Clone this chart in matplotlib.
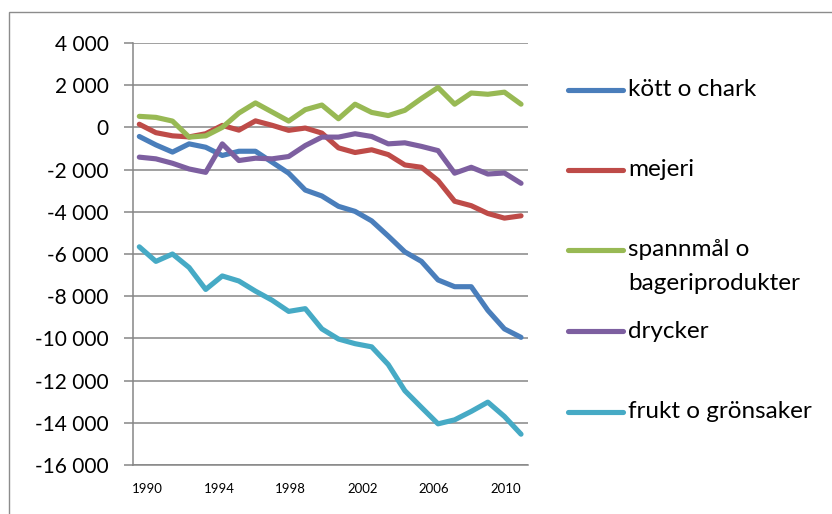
import numpy as np
import matplotlib
matplotlib.use("Agg")
import matplotlib.pyplot as plt
from matplotlib.lines import Line2D
from matplotlib.patches import Rectangle
from matplotlib.ticker import FuncFormatter, MultipleLocator

# ---- data ----
tick_labels = ["1990", "1994", "1998", "2002", "2006", "2010"]

kott_o_chark = [-430, -830, -1170, -780, -940, -1330, -1130, -1130, -1650, -2170,
                -2970, -3250, -3740, -3980, -4430, -5150, -5900, -6350, -7230,
                -7550, -7550, -8670, -9550, -9950]
mejeri = [150, -250, -400, -450, -300, 95, -130, 310, 100, -140,
          -30, -270, -970, -1190, -1060, -1290, -1780, -1890, -2520,
          -3500, -3710, -4080, -4300, -4190]
spannmal = [524, 476, 300, -460, -400, 0, 680, 1160, 730, 300,
            840, 1060, 410, 1100, 710, 560, 810, 1370, 1890,
            1100, 1630, 1570, 1670, 1100]
drycker = [-1410, -1490, -1700, -1970, -2130, -780, -1570, -1460, -1490, -1380,
           -860, -460, -460, -300, -430, -780, -730, -900, -1100,
           -2170, -1890, -2210, -2160, -2650]
frukt = [-5660, -6350, -6000, -6640, -7680, -7040, -7280, -7760, -8190, -8720,
         -8590, -9550, -10030, -10250, -10400, -11240, -12480, -13270, -14050,
         -13860, -13460, -13020, -13700, -14540]

series_names = ["kött o chark", "mejeri", "spannmål o\nbageriprodukter",
                "drycker", "frukt o grönsaker"]
series_values = [kott_o_chark, mejeri, spannmal, drycker, frukt]
colors = ["#4A7EBB", "#BE4B48", "#98B954", "#7D5FA0", "#46AAC5"]

FONT = ["Lato", "DejaVu Sans"]
plt.rcParams["font.family"] = FONT

W, H = 832, 514
fig = plt.figure(figsize=(W / 100, H / 100), dpi=100)
fig.patch.set_facecolor("white")

# outer chart frame
fig.patches.append(Rectangle((9 / W, -0.1), 1.2, (H - 12) / H + 0.1,
                             transform=fig.transFigure, fill=False,
                             edgecolor="#8c8c8c", linewidth=1.0))

left, right, top, bottom = 133, 528, 43, 465
ax = fig.add_axes([left / W, 1 - bottom / H, (right - left) / W, (bottom - top) / H])

x = np.arange(len(kott_o_chark))
for vals, c in zip(series_values, colors):
    ax.plot(x, vals, color=c, linewidth=3.7, solid_joinstyle="round",
            solid_capstyle="round", zorder=3, clip_on=False)

ax.set_ylim(-16000, 4000)
ax.yaxis.set_major_locator(MultipleLocator(2000))
ax.yaxis.set_major_formatter(FuncFormatter(lambda v, p: f"{int(v):,}".replace(",", " ")))
ax.set_xlim(-0.38, 23.42)

# category labels placed as in the reference
tick_pos = [0.48 + 4.32 * k for k in range(len(tick_labels))]
ax.set_xticks(tick_pos)
ax.set_xticklabels(tick_labels)

grid_c = "#868686"
ax.grid(axis="y", color=grid_c, linewidth=1.1, zorder=0)
ax.set_axisbelow(True)
for s in ["top", "right"]:
    ax.spines[s].set_visible(False)
for s in ["left", "bottom"]:
    ax.spines[s].set_color(grid_c)
    ax.spines[s].set_linewidth(1.1)

ax.tick_params(axis="y", length=6.5, width=1.1, color=grid_c, pad=11,
               labelsize=15, labelcolor="black")
ax.tick_params(axis="x", length=0, pad=13, labelsize=9.5, labelcolor="black")

# legend drawn on the right
leg_y = [90, 170, 250, 331, 412]
second_line_y = 283
LEG_FS = 17.5
for name, c, yy in zip(series_names, colors, leg_y):
    fy = 1 - yy / H
    fig.add_artist(Line2D([568 / W, 623 / W], [fy, fy], color=c, linewidth=3.7,
                          solid_capstyle="round", transform=fig.transFigure))
    lines = name.split("\n")
    fig.text(628 / W, fy, lines[0], fontsize=LEG_FS, va="center", ha="left",
             color="black")
    if len(lines) > 1:
        fig.text(628 / W, 1 - second_line_y / H, lines[1], fontsize=LEG_FS,
                 va="center", ha="left", color="black")

fig.savefig("out.png", dpi=100, facecolor="white")
